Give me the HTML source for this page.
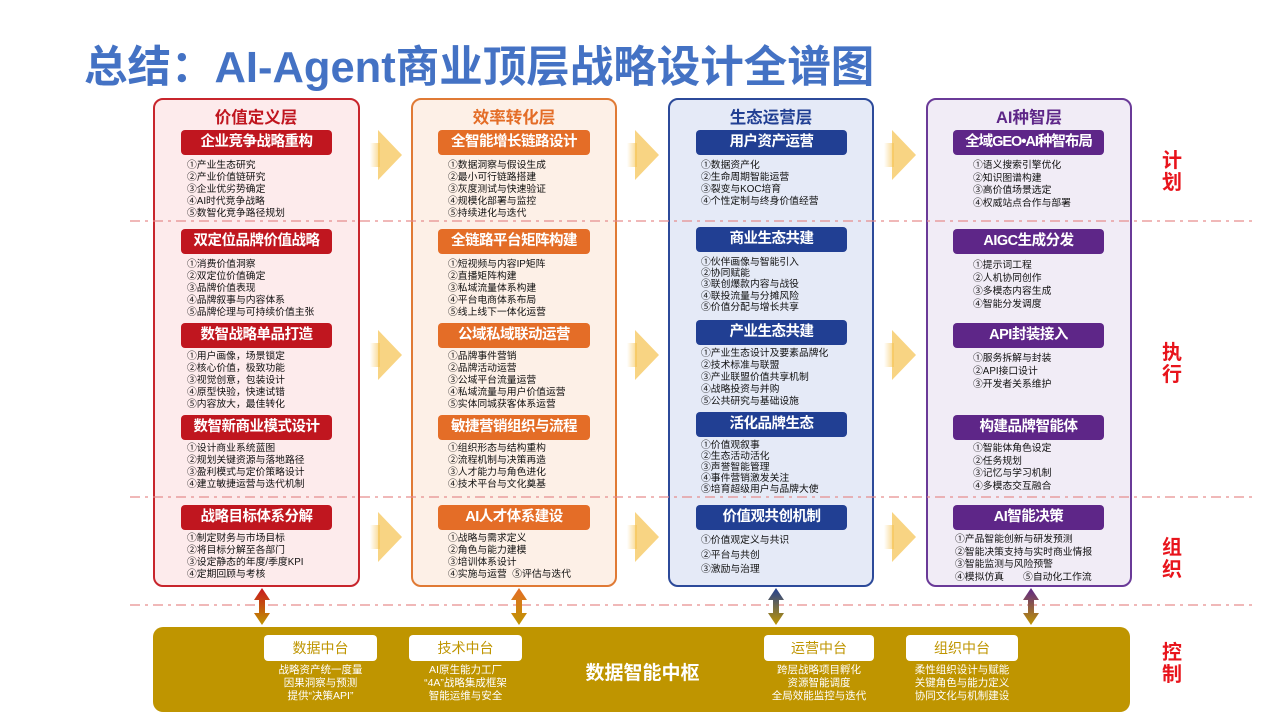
<!DOCTYPE html>
<html><head><meta charset="utf-8">
<style>
*{margin:0;padding:0;box-sizing:border-box}
body{width:1280px;height:720px;background:#fff;position:relative;overflow:hidden;font-family:"Liberation Sans","Noto Sans CJK SC",sans-serif}
.a{position:absolute}
.title{left:84px;top:32px;font-size:43.5px;font-weight:bold;color:#4472c4;letter-spacing:0px;white-space:nowrap}
.col{position:absolute;top:98px;height:489px;border-radius:10px;border:2px solid}
.c1{left:153px;width:207px;background:#fdebec;border-color:#c8252c}
.c2{left:411px;width:206px;background:#fdf0e7;border-color:#e07a35}
.c3{left:668px;width:206px;background:#e5eaf7;border-color:#2c4a9a}
.c4{left:926px;width:206px;background:#f1ecf6;border-color:#6a3a98}
.h{position:absolute;top:104px;font-size:16.5px;font-weight:bold;text-align:center;width:206px}
.btn{position:absolute;height:25px;border-radius:4px;color:#fff;font-size:14.5px;font-weight:bold;text-align:center;line-height:25px;white-space:nowrap;letter-spacing:-0.5px}
.r{background:#c0161f}.o{background:#e46d27}.b{background:#213f93}.p{background:#5e2688}
.t{position:absolute;font-size:9.8px;line-height:12px;color:#111;white-space:nowrap}
.side{position:absolute;left:1162px;font-size:20px;font-weight:bold;color:#e8141c;line-height:22px;width:22px}
.bar{left:153px;top:627px;width:977px;height:85px;background:#bf9500;border-radius:10px}
.wb{position:absolute;top:635px;height:26px;background:#fff;border-radius:4px;color:#bf9500;font-size:14px;text-align:center;line-height:26px}
.wt{position:absolute;top:664px;color:#fff;font-size:10.5px;line-height:13px;text-align:center;white-space:nowrap}
</style></head><body>
<div class="a title">总结：AI-Agent商业顶层战略设计全谱图</div>

<div class="col c1"></div><div class="col c2"></div><div class="col c3"></div><div class="col c4"></div>

<svg class="a" style="left:0;top:0" width="1280" height="720">
<defs>
<linearGradient id="tail" x1="0" x2="1"><stop offset="0" stop-color="#f6c65a" stop-opacity="0"/><stop offset="1" stop-color="#f6c65a" stop-opacity="0.7"/></linearGradient>
<linearGradient id="g1" x1="0" y1="0" x2="0" y2="1"><stop offset="0" stop-color="#c8161d"/><stop offset="1" stop-color="#bf9500"/></linearGradient>
<linearGradient id="g2" x1="0" y1="0" x2="0" y2="1"><stop offset="0" stop-color="#e46d27"/><stop offset="1" stop-color="#bf9500"/></linearGradient>
<linearGradient id="g3" x1="0" y1="0" x2="0" y2="1"><stop offset="0" stop-color="#213f93"/><stop offset="1" stop-color="#bf9500"/></linearGradient>
<linearGradient id="g4" x1="0" y1="0" x2="0" y2="1"><stop offset="0" stop-color="#5e2688"/><stop offset="1" stop-color="#bf9500"/></linearGradient>
<g id="chev"><rect x="-4" y="-12" width="10" height="24" fill="url(#tail)"/><polygon points="4,-25 28,0 4,25" fill="#f6c65a" opacity="0.75"/></g>
</defs>
<g stroke="#e58a8a" stroke-width="1.5" stroke-dasharray="10,5,3,5" opacity="0.8">
<line x1="130" y1="221" x2="1255" y2="221"/>
<line x1="130" y1="497" x2="1255" y2="497"/>
<line x1="130" y1="605" x2="1255" y2="605"/>
</g>
<use href="#chev" x="374" y="155"/><use href="#chev" x="374" y="355"/><use href="#chev" x="374" y="537"/>
<use href="#chev" x="631" y="155"/><use href="#chev" x="631" y="355"/><use href="#chev" x="631" y="537"/>
<use href="#chev" x="888" y="155"/><use href="#chev" x="888" y="355"/><use href="#chev" x="888" y="537"/>
<g>
<path d="M262,588 L270,600 L265,600 L265,613 L270,613 L262,625 L254,613 L259,613 L259,600 L254,600 Z" fill="url(#g1)"/>
<path d="M519,588 L527,600 L522,600 L522,613 L527,613 L519,625 L511,613 L516,613 L516,600 L511,600 Z" fill="url(#g2)"/>
<path d="M776,588 L784,600 L779,600 L779,613 L784,613 L776,625 L768,613 L773,613 L773,600 L768,600 Z" fill="url(#g3)"/>
<path d="M1031,588 L1039,600 L1034,600 L1034,613 L1039,613 L1031,625 L1023,613 L1028,613 L1028,600 L1023,600 Z" fill="url(#g4)"/>
</g>
</svg>

<div class="h" style="left:153px;color:#c0161f">价值定义层</div>
<div class="h" style="left:411px;color:#e46d27">效率转化层</div>
<div class="h" style="left:668px;color:#213f93">生态运营层</div>
<div class="h" style="left:926px;color:#5e2688">AI种智层</div>

<!-- col1 -->
<div class="btn r" style="left:181px;top:130px;width:151px">企业竞争战略重构</div>
<div class="t" style="left:187px;top:160px">①产业生态研究<br>②产业价值链研究<br>③企业优劣势确定<br>④AI时代竞争战略<br>⑤数智化竞争路径规划</div>
<div class="btn r" style="left:181px;top:229px;width:151px">双定位品牌价值战略</div>
<div class="t" style="left:187px;top:259px">①消费价值洞察<br>②双定位价值确定<br>③品牌价值表现<br>④品牌叙事与内容体系<br>⑤品牌伦理与可持续价值主张</div>
<div class="btn r" style="left:181px;top:323px;width:151px">数智战略单品打造</div>
<div class="t" style="left:187px;top:351px">①用户画像，场景锁定<br>②核心价值，极致功能<br>③视觉创意，包装设计<br>④原型快验，快速试错<br>⑤内容放大，最佳转化</div>
<div class="btn r" style="left:181px;top:415px;width:151px">数智新商业模式设计</div>
<div class="t" style="left:187px;top:443px">①设计商业系统蓝图<br>②规划关键资源与落地路径<br>③盈利模式与定价策略设计<br>④建立敏捷运营与迭代机制</div>
<div class="btn r" style="left:181px;top:505px;width:151px">战略目标体系分解</div>
<div class="t" style="left:187px;top:533px">①制定财务与市场目标<br>②将目标分解至各部门<br>③设定静态的年度/季度KPI<br>④定期回顾与考核</div>

<!-- col2 -->
<div class="btn o" style="left:438px;top:130px;width:152px">全智能增长链路设计</div>
<div class="t" style="left:448px;top:160px">①数据洞察与假设生成<br>②最小可行链路搭建<br>③灰度测试与快速验证<br>④规模化部署与监控<br>⑤持续进化与迭代</div>
<div class="btn o" style="left:438px;top:229px;width:152px">全链路平台矩阵构建</div>
<div class="t" style="left:448px;top:259px">①短视频与内容IP矩阵<br>②直播矩阵构建<br>③私域流量体系构建<br>④平台电商体系布局<br>⑤线上线下一体化运营</div>
<div class="btn o" style="left:438px;top:323px;width:152px">公域私域联动运营</div>
<div class="t" style="left:448px;top:351px">①品牌事件营销<br>②品牌活动运营<br>③公域平台流量运营<br>④私域流量与用户价值运营<br>⑤实体同城获客体系运营</div>
<div class="btn o" style="left:438px;top:415px;width:152px">敏捷营销组织与流程</div>
<div class="t" style="left:448px;top:443px">①组织形态与结构重构<br>②流程机制与决策再造<br>③人才能力与角色进化<br>④技术平台与文化奠基</div>
<div class="btn o" style="left:438px;top:505px;width:152px">AI人才体系建设</div>
<div class="t" style="left:448px;top:533px">①战略与需求定义<br>②角色与能力建模<br>③培训体系设计<br>④实施与运营 &nbsp;⑤评估与迭代</div>

<!-- col3 -->
<div class="btn b" style="left:696px;top:130px;width:151px">用户资产运营</div>
<div class="t" style="left:701px;top:160px">①数据资产化<br>②生命周期智能运营<br>③裂变与KOC培育<br>④个性定制与终身价值经营</div>
<div class="btn b" style="left:696px;top:227px;width:151px">商业生态共建</div>
<div class="t" style="left:701px;top:257px;line-height:11.2px">①伙伴画像与智能引入<br>②协同赋能<br>③联创爆款内容与战役<br>④联投流量与分摊风险<br>⑤价值分配与增长共享</div>
<div class="btn b" style="left:696px;top:320px;width:151px">产业生态共建</div>
<div class="t" style="left:701px;top:348px">①产业生态设计及要素品牌化<br>②技术标准与联盟<br>③产业联盟价值共享机制<br>④战略投资与并购<br>⑤公共研究与基础设施</div>
<div class="btn b" style="left:696px;top:412px;width:151px">活化品牌生态</div>
<div class="t" style="left:701px;top:440px;line-height:11px">①价值观叙事<br>②生态活动活化<br>③声誉智能管理<br>④事件营销激发关注<br>⑤培育超级用户与品牌大使</div>
<div class="btn b" style="left:696px;top:505px;width:151px">价值观共创机制</div>
<div class="t" style="left:701px;top:534px;line-height:14.5px">①价值观定义与共识<br>②平台与共创<br>③激励与治理</div>

<!-- col4 -->
<div class="btn p" style="left:953px;top:130px;width:151px;letter-spacing:-1px">全域GEO•AI种智布局</div>
<div class="t" style="left:973px;top:160px;line-height:12.5px">①语义搜索引擎优化<br>②知识图谱构建<br>③高价值场景选定<br>④权威站点合作与部署</div>
<div class="btn p" style="left:953px;top:229px;width:151px">AIGC生成分发</div>
<div class="t" style="left:973px;top:259px;line-height:13px">①提示词工程<br>②人机协同创作<br>③多模态内容生成<br>④智能分发调度</div>
<div class="btn p" style="left:953px;top:323px;width:151px">API封装接入</div>
<div class="t" style="left:973px;top:352px;line-height:13px">①服务拆解与封装<br>②API接口设计<br>③开发者关系维护</div>
<div class="btn p" style="left:953px;top:415px;width:151px">构建品牌智能体</div>
<div class="t" style="left:973px;top:443px;line-height:12.5px">①智能体角色设定<br>②任务规划<br>③记忆与学习机制<br>④多模态交互融合</div>
<div class="btn p" style="left:953px;top:505px;width:151px">AI智能决策</div>
<div class="t" style="left:955px;top:534px;line-height:12.5px">①产品智能创新与研发预测<br>②智能决策支持与实时商业情报<br>③智能监测与风险预警<br>④模拟仿真 &nbsp;&nbsp;&nbsp;&nbsp;&nbsp;&nbsp;⑤自动化工作流</div>

<!-- side labels -->
<div class="side" style="top:150px">计<br>划</div>
<div class="side" style="top:342px">执<br>行</div>
<div class="side" style="top:537px">组<br>织</div>
<div class="side" style="top:642px">控<br>制</div>

<!-- bottom bar -->
<div class="a bar"></div>
<div class="wb" style="left:264px;width:113px">数据中台</div>
<div class="wb" style="left:409px;width:113px">技术中台</div>
<div class="wb" style="left:764px;width:110px">运营中台</div>
<div class="wb" style="left:906px;width:112px">组织中台</div>
<div class="wt" style="left:264px;width:113px">战略资产统一度量<br>因果洞察与预测<br>提供“决策API”</div>
<div class="wt" style="left:409px;width:113px">AI原生能力工厂<br>“4A”战略集成框架<br>智能运维与安全</div>
<div class="wt" style="left:764px;width:110px">跨层战略项目孵化<br>资源智能调度<br>全局效能监控与迭代</div>
<div class="wt" style="left:906px;width:112px">柔性组织设计与赋能<br>关键角色与能力定义<br>协同文化与机制建设</div>
<div class="a" style="left:560px;top:658px;width:165px;text-align:center;color:#fff;font-size:19px;font-weight:bold">数据智能中枢</div>
</body></html>
